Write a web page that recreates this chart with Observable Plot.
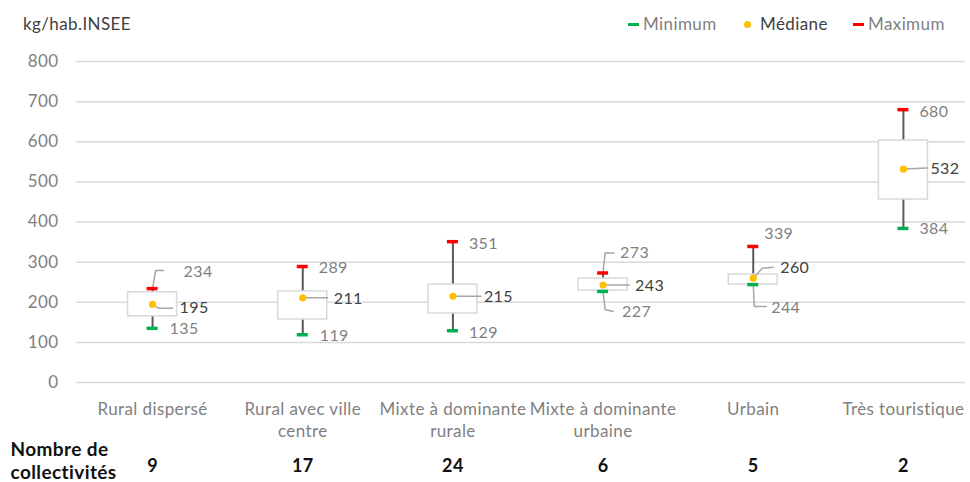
<!DOCTYPE html>
<html><head><meta charset="utf-8">
<script src="https://cdn.jsdelivr.net/npm/d3@7"></script>
<script src="https://cdn.jsdelivr.net/npm/@observablehq/plot@0.6"></script>
<style>
body{margin:0;background:#fff;font-family:Lato,"Open Sans",sans-serif;}
#wrap{position:relative;width:970px;height:482px;overflow:hidden}
#head{position:relative;height:42px}
.t{position:absolute;font-size:17px;line-height:18px;top:15px;white-space:nowrap;letter-spacing:0.4px}
.sw{position:absolute}
</style></head><body>
<div id="wrap">
<div id="head">
<span class="t" style="left:23px;color:#404040">kg/hab.INSEE</span>
<span class="sw" style="left:628px;top:23px;width:11px;height:3px;background:#00b050"></span>
<span class="t" style="left:643px;color:#808080">Minimum</span>
<span class="sw" style="left:744px;top:21px;width:7px;height:7px;border-radius:50%;background:#ffc000"></span>
<span class="t" style="left:760px;color:#404040">Médiane</span>
<span class="sw" style="left:853px;top:23px;width:11px;height:3px;background:#ff0000"></span>
<span class="t" style="left:868px;color:#808080">Maximum</span>
</div>
<div id="chart"></div>
</div>
<script>
// ---- data ----
const categories = ["Rural dispersé","Rural avec ville centre","Mixte à dominante rurale","Mixte à dominante urbaine","Urbain","Très touristique"];
const tickLabels = ["Rural dispersé","Rural avec ville\ncentre","Mixte à dominante\nrurale","Mixte à dominante\nurbaine","Urbain","Très touristique"];
const minimum = [135,119,129,227,244,384];
const q1      = [165,157,172,229,244,456];
const median  = [195,211,215,243,260,532];
const q3      = [225,227,244,259,269,603];
const maximum = [234,289,351,273,339,680];
const counts  = [9,17,24,6,5,2];
const yTicks  = [0,100,200,300,400,500,600,700,800];

// ---- layout (pixel offsets for annotation labels & leader lines) ----
const labelLayout = {
  max: [
    {dx:31, dy:-17, line:[[0,0],[3,-18],[11,-18]]},
    {dx:16, dy:1},
    {dx:16, dy:2},
    {dx:17, dy:-20, line:[[0,-1],[2,-20],[11,-20]]},
    {dx:11, dy:-13},
    {dx:16, dy:2}
  ],
  med: [
    {dx:27, dy:4, line:[[0,0],[6,4],[20,4]]},
    {dx:31, dy:1, line:[[0,0],[25,0]]},
    {dx:31, dy:1, line:[[0,0],[28,0]]},
    {dx:32, dy:1, line:[[0,0],[26,0]]},
    {dx:27, dy:-10, line:[[0,0],[9,-10],[20,-11]]},
    {dx:27, dy:0, line:[[0,0],[24,-1]]}
  ],
  min: [
    {dx:17, dy:1},
    {dx:17, dy:1},
    {dx:16, dy:2},
    {dx:19, dy:20, line:[[0,0],[2,18],[10,20]]},
    {dx:18, dy:23, line:[[0,0],[1,22],[13,22]]},
    {dx:16, dy:0}
  ]
};

const W = 970, H = 440, mT = 19, mB = 100;
const xRange = [77, 978];
const step = (xRange[1] - xRange[0]) / categories.length;
const k = (H - mB - mT) / 800; // px per unit
const px = p => p / step;      // pixel -> x units
const py = p => -p / k;        // pixel -> y units

const idx = categories.map((_, i) => i);
const stats = {max: maximum, med: median, min: minimum};
const labels = [], lines = [];
for (const key of ["max","med","min"]) {
  idx.forEach(i => {
    const L = labelLayout[key][i], v = stats[key][i];
    labels.push({key, x: i + px(L.dx), y: v + py(L.dy), text: String(v)});
    if (L.line) L.line.forEach(([a, b]) => lines.push({id: key + i, x: i + px(a), y: v + py(b)}));
  });
}

const FONT = "Lato, 'Open Sans', sans-serif";
const hw = px(24.5), tw = px(5.5);
const chart = Plot.plot({
  width: W, height: H,
  marginTop: mT, marginBottom: mB, marginLeft: 76, marginRight: 5,
  x: {type: "linear", domain: [-0.5, categories.length - 0.5], range: xRange, axis: null},
  y: {domain: [0, 800], axis: null},
  style: {fontFamily: FONT, overflow: "visible", background: "white", letterSpacing: "0.4px"},
  marks: [
    Plot.ruleY(yTicks, {y: d => d, stroke: "#d9d9d9", strokeWidth: 1.5}),
    Plot.text(yTicks, {y: d => d, frameAnchor: "left", dx: -18, textAnchor: "end", text: d => String(d), fill: "#7f7f7f", fontSize: 17}),
    Plot.ruleX(idx, {x: i => i, y1: i => minimum[i], y2: i => maximum[i], stroke: "#595959", strokeWidth: 2}),
    Plot.rect(idx, {x1: i => i - hw, x2: i => i + hw, y1: i => q1[i], y2: i => q3[i], fill: "white", stroke: "#d9d9d9", strokeWidth: 1.5}),
    Plot.line(lines, {x: "x", y: "y", z: "id", stroke: "#a6a6a6", strokeWidth: 1.5}),
    Plot.ruleY(idx, {y: i => minimum[i], x1: i => i - tw, x2: i => i + tw, stroke: "#00b050", strokeWidth: 3.5}),
    Plot.ruleY(idx, {y: i => maximum[i], x1: i => i - tw, x2: i => i + tw, stroke: "#ff0000", strokeWidth: 3.5}),
    Plot.dot(idx, {x: i => i, y: i => median[i], r: 3.6, fill: "#ffc000"}),
    Plot.text(labels.filter(d => d.key !== "med"), {x: "x", y: "y", text: "text", textAnchor: "start", fontSize: 16, fill: "#7f7f7f"}),
    Plot.text(labels.filter(d => d.key === "med"), {x: "x", y: "y", text: "text", textAnchor: "start", fontSize: 16, fill: "#404040"}),
    Plot.text(idx, {x: i => i, frameAnchor: "bottom", dy: 17, lineAnchor: "top", lineHeight: 1.3, text: i => tickLabels[i], fill: "#7f7f7f", fontSize: 17}),
    Plot.text(counts, {x: (d, i) => i, frameAnchor: "bottom", dy: 89, text: d => String(d), fill: "#111", fontSize: 18, fontWeight: "bold"}),
    Plot.text(["Nombre de\ncollectivités"], {frameAnchor: "bottom-left", dx: -66, dy: 96, textAnchor: "start", lineHeight: 1.2, fill: "#111", fontSize: 19, fontWeight: "bold"})
  ]
});
document.getElementById("chart").appendChild(chart);
</script>
</body></html>
